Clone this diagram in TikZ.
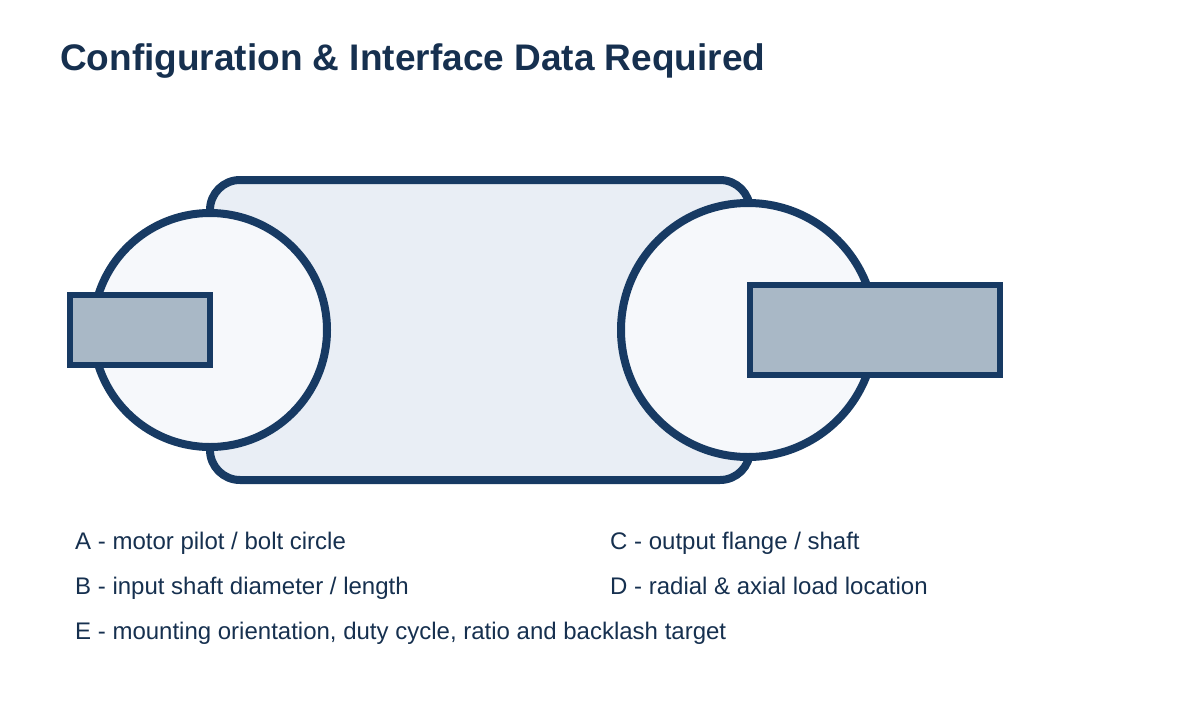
\documentclass[tikz,border=0pt]{standalone}
\usepackage{fontspec}
\setmainfont{Liberation Sans}
\definecolor{navy}{HTML}{173A63}
\definecolor{txt}{HTML}{16304F}
\definecolor{bodyf}{HTML}{E9EEF5}
\definecolor{discf}{HTML}{F6F8FB}
\definecolor{shaftf}{HTML}{A9B8C6}
\begin{document}
\begin{tikzpicture}[x=1pt,y=-1pt,
  part/.style={draw=navy,line width=8pt},
  lbl/.style={anchor=base west,text=txt,font=\fontsize{24}{28}\selectfont,inner sep=0}]
\useasboundingbox (0,0) rectangle (1200,720);
\node[anchor=base west,text=txt,inner sep=0,font=\bfseries\fontsize{37}{44}\selectfont] (title) at (60,70) {Configuration \& Interface Data Required};
\draw[part,fill=bodyf,rounded corners=30pt] (210,180) rectangle (750,480);
\node[part,circle,fill=discf,minimum size=234pt,inner sep=0] (inp) at (210,330) {};
\node[part,circle,fill=discf,minimum size=254pt,inner sep=0] (out) at (748,330) {};
\draw[part,line width=6pt,fill=shaftf] (70,295) rectangle (210,365);
\draw[part,line width=6pt,fill=shaftf] (750,285) rectangle (1000,375);
\node[lbl] (a) at (75,549) {A - motor pilot / bolt circle};
\node[lbl] (c) at (610,549) {C - output flange / shaft};
\node[lbl] (b) at (75,594) {B - input shaft diameter / length};
\node[lbl] (d) at (610,594) {D - radial \& axial load location};
\node[lbl] (e) at (75,639) {E - mounting orientation, duty cycle, ratio and backlash target};
\end{tikzpicture}
\end{document}
